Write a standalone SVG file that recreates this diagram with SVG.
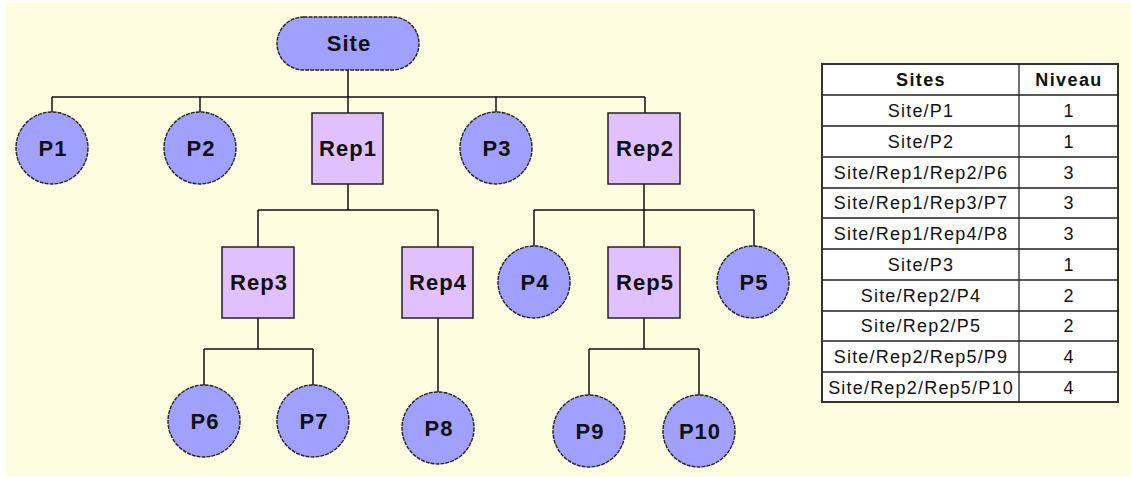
<svg xmlns="http://www.w3.org/2000/svg" width="1131" height="477" viewBox="0 0 1131 477">
<style>
.lbl{font-family:"Liberation Sans",Arial,sans-serif;font-weight:bold;font-size:22px;letter-spacing:1px;fill:#111;text-anchor:middle}
.circ{fill:#A0A0FF;stroke:#222;stroke-width:1.4;stroke-dasharray:4 1}
.box{fill:#E0C0FF;stroke:#222;stroke-width:1.5}
.conn{fill:none;stroke:#111;stroke-width:1.5}
.tc{font-family:"Liberation Sans",Arial,sans-serif;font-size:18px;letter-spacing:1.2px;fill:#111;text-anchor:middle}
.th{font-family:"Liberation Sans",Arial,sans-serif;font-size:18px;font-weight:bold;letter-spacing:1.4px;fill:#111;text-anchor:middle}
.tl{stroke:#222;stroke-width:1.3}
</style>
<rect x="0" y="0" width="1131" height="477" fill="#FFFFFF"/>
<rect x="6" y="3" width="1125" height="473" fill="#FFFDE0"/>
<g id="connectors">
<path class="conn" d="M348,70V97M52,97H645M52,97V112M200,97V112M348,97V113M496,97V112M645,97V113"/>
<path class="conn" d="M348,184V210M258,210H438M258,210V247M438,210V247"/>
<path class="conn" d="M258,318V349M204,349H313M204,349V385M313,349V385"/>
<path class="conn" d="M438,318V392"/>
<path class="conn" d="M644,184V247M534,210H754M534,210V246M754,210V246"/>
<path class="conn" d="M644,318V349M589,349H699M589,349V395M699,349V395"/>
</g>
<g id="Site"><rect class="circ" x="277" y="17" width="142" height="53" rx="26.5"/><text class="lbl" x="349" y="51">Site</text></g>
<g id="P1"><circle class="circ" cx="52" cy="148" r="36"/><text class="lbl" x="53" y="156">P1</text></g>
<g id="P2"><circle class="circ" cx="200" cy="148" r="36"/><text class="lbl" x="201" y="156">P2</text></g>
<g id="Rep1"><rect class="box" x="312" y="113" width="71" height="71"/><text class="lbl" x="348" y="156">Rep1</text></g>
<g id="P3"><circle class="circ" cx="496" cy="148" r="36"/><text class="lbl" x="497" y="156">P3</text></g>
<g id="Rep2"><rect class="box" x="608" y="113" width="72" height="71"/><text class="lbl" x="645" y="156">Rep2</text></g>
<g id="Rep3"><rect class="box" x="222" y="247" width="72" height="71"/><text class="lbl" x="259" y="290">Rep3</text></g>
<g id="Rep4"><rect class="box" x="402" y="247" width="71" height="71"/><text class="lbl" x="438" y="290">Rep4</text></g>
<g id="P4"><circle class="circ" cx="534" cy="282" r="36"/><text class="lbl" x="535" y="290">P4</text></g>
<g id="Rep5"><rect class="box" x="608" y="247" width="72" height="71"/><text class="lbl" x="645" y="290">Rep5</text></g>
<g id="P5"><circle class="circ" cx="753" cy="282" r="36"/><text class="lbl" x="754" y="290">P5</text></g>
<g id="P6"><circle class="circ" cx="204" cy="421" r="36"/><text class="lbl" x="205" y="429">P6</text></g>
<g id="P7"><circle class="circ" cx="313" cy="421" r="36"/><text class="lbl" x="314" y="429">P7</text></g>
<g id="P8"><circle class="circ" cx="438" cy="428" r="36"/><text class="lbl" x="439" y="436">P8</text></g>
<g id="P9"><circle class="circ" cx="589" cy="431" r="36"/><text class="lbl" x="590" y="439">P9</text></g>
<g id="P10"><circle class="circ" cx="699" cy="431" r="36"/><text class="lbl" x="700" y="439">P10</text></g>
<g id="table">
<rect x="822" y="64" width="296" height="338" fill="#FFFFFF" stroke="#333" stroke-width="2"/>
<path class="tl" d="M1019,64V402M822,95H1118M822,126H1118M822,157H1118M822,188H1118M822,218H1118M822,249H1118M822,280H1118M822,311H1118M822,341H1118M822,372H1118"/>
<text class="th" x="921" y="86">Sites</text><text class="th" x="1069" y="86">Niveau</text>
<text class="tc" x="921" y="117">Site/P1</text><text class="tc" x="1069" y="117">1</text>
<text class="tc" x="921" y="148">Site/P2</text><text class="tc" x="1069" y="148">1</text>
<text class="tc" x="921" y="179">Site/Rep1/Rep2/P6</text><text class="tc" x="1069" y="179">3</text>
<text class="tc" x="921" y="209">Site/Rep1/Rep3/P7</text><text class="tc" x="1069" y="209">3</text>
<text class="tc" x="921" y="240">Site/Rep1/Rep4/P8</text><text class="tc" x="1069" y="240">3</text>
<text class="tc" x="921" y="271">Site/P3</text><text class="tc" x="1069" y="271">1</text>
<text class="tc" x="921" y="302">Site/Rep2/P4</text><text class="tc" x="1069" y="302">2</text>
<text class="tc" x="921" y="332">Site/Rep2/P5</text><text class="tc" x="1069" y="332">2</text>
<text class="tc" x="921" y="363">Site/Rep2/Rep5/P9</text><text class="tc" x="1069" y="363">4</text>
<text class="tc" x="921" y="394">Site/Rep2/Rep5/P10</text><text class="tc" x="1069" y="394">4</text>
</g>
</svg>
